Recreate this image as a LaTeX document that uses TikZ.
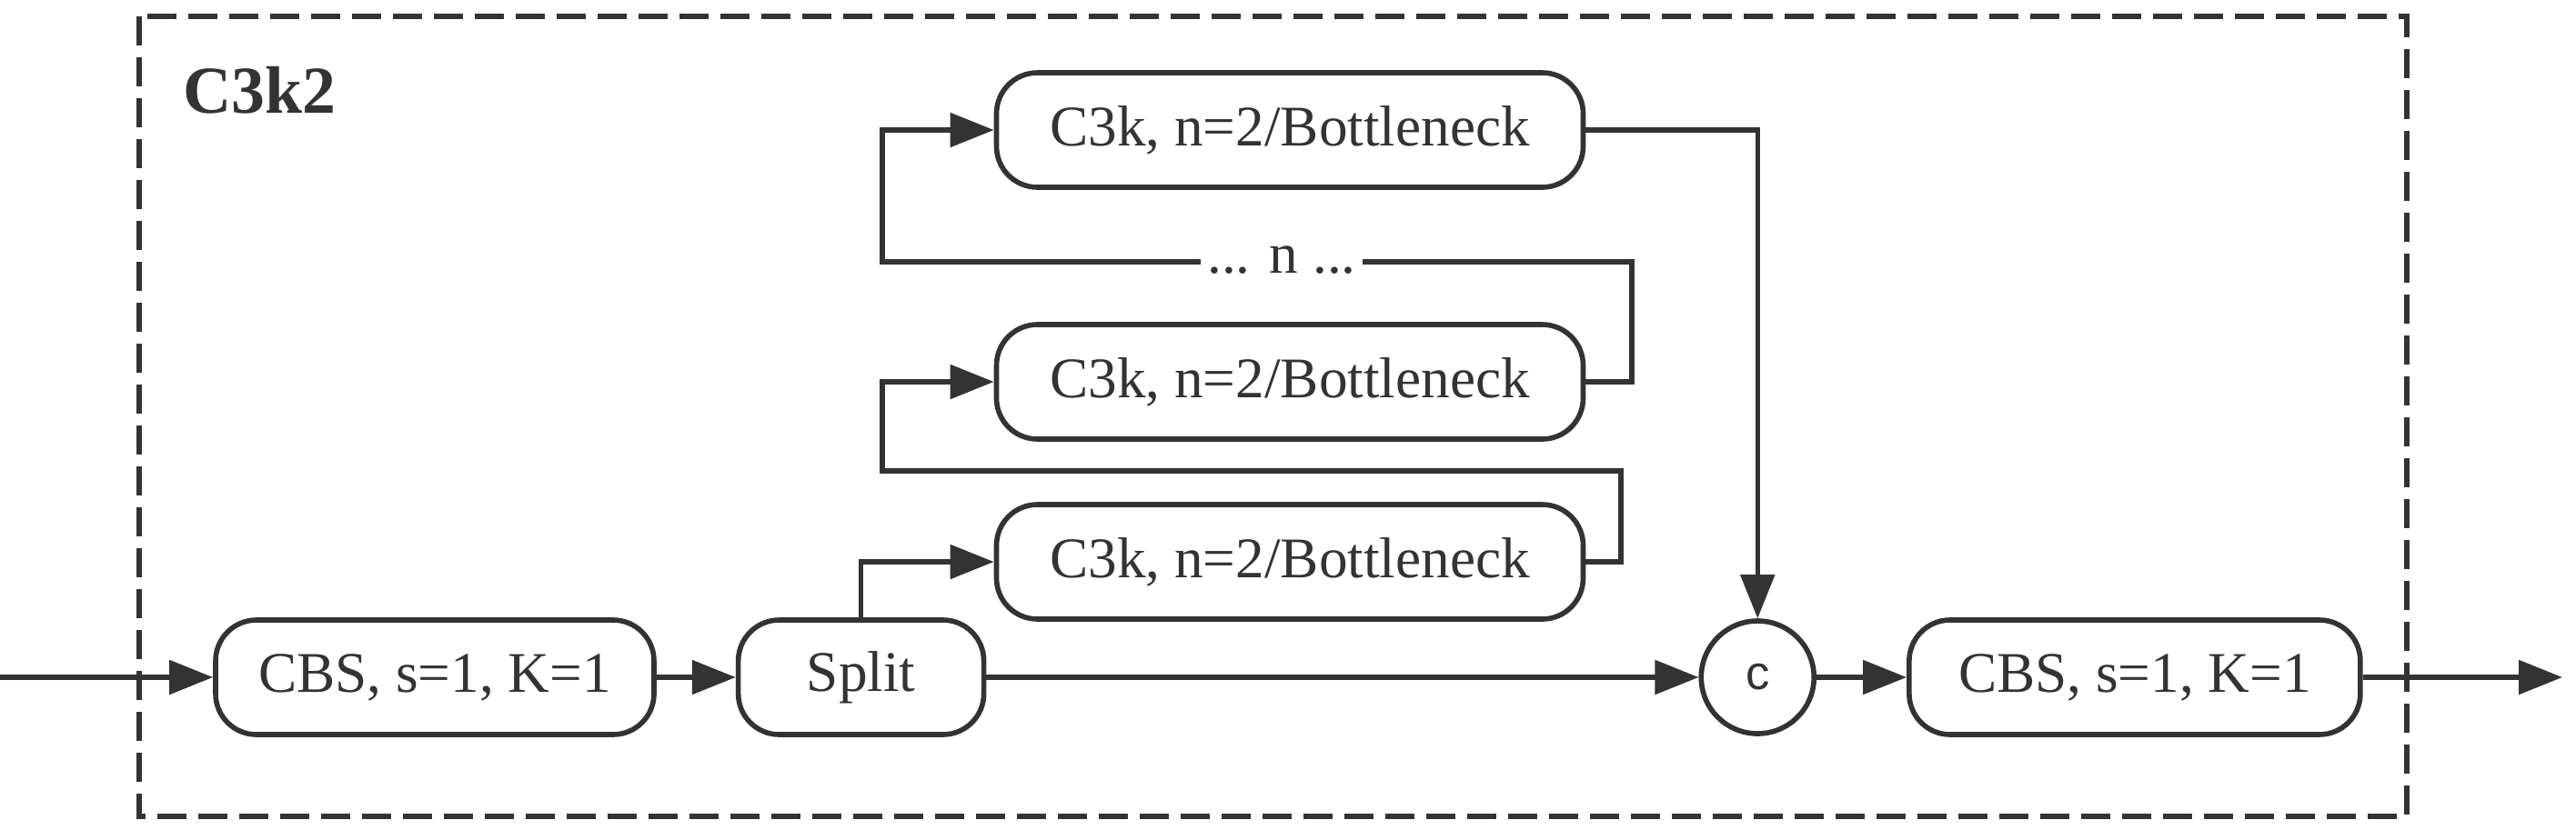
\documentclass[tikz,border=0pt]{standalone}
\usepackage{fontspec}
\setmainfont{Liberation Serif}
\newfontfamily\circfont{Liberation Sans}
\usepackage{tikz}
\usetikzlibrary{
    arrows.meta,
    positioning,
    calc
}
\definecolor{InkGray}{RGB}{51,51,51}
\tikzset{
  block/.style   = {draw=InkGray, line width=1.6pt, rounded corners=0.45cm,
                    minimum height=1.26cm, align=center, text=InkGray,
                    font=\fontsize{18}{21}\selectfont},
  catnode/.style = {circle, draw=InkGray, line width=1.6pt, minimum size=1.24cm,
                    inner sep=0pt, text=InkGray, font=\circfont\fontsize{15}{18}\selectfont},
  arr/.style     = {-{Triangle[length=0.48cm,width=0.37cm]}, line width=1.5pt, InkGray},
  wire/.style    = {line width=1.5pt, InkGray},
  frame/.style   = {draw=InkGray, line width=1.5pt, dash pattern=on 0.32cm off 0.13cm}
}

\begin{document}
\begin{tikzpicture}[node distance=0.9cm]
\useasboundingbox (0,0) rectangle (28.32,-9.12);
\draw[frame] (1.53,-0.18) rectangle (26.46,-8.98);
\node[anchor=west, text=InkGray, font=\bfseries\fontsize{21}{24}\selectfont] (title) at (1.89,-0.99) {C3k2};
% main line
\node[block, minimum width=4.82cm] (cbsin) at (4.78,-7.45) {CBS, s=1, K=1};
\node[block, minimum width=2.70cm, right=0.87cm of cbsin] (split) {Split};
\node[catnode, right=7.83cm of split] (concat) {c};
\node[block, minimum width=4.96cm, right=0.99cm of concat] (cbsout) {CBS, s=1, K=1};
\coordinate (in) at (0,-7.45);
\coordinate (out) at (28.17,-7.45);
% bottleneck stack
\node[block, minimum width=6.45cm] (bbot) at (14.18,-6.18) {C3k, n=2/Bottleneck};
\node[block, minimum width=6.45cm] (bmid) at (14.18,-4.20) {C3k, n=2/Bottleneck};
\node[block, minimum width=6.45cm] (btop) at (14.18,-1.43) {C3k, n=2/Bottleneck};
\node[text=InkGray, font=\fontsize{18}{21}\selectfont, inner sep=2pt] (dots) at (14.09,-2.86) {... n ...};
\coordinate (r1) at (17.82,-5.18);
\coordinate (l1) at (9.70,-5.18);
\coordinate (r2) at (17.94,-2.88);
\coordinate (l2) at (9.70,-2.88);
\draw[arr] (in) -- (cbsin);
\draw[arr] (cbsin) -- (split);
\draw[arr] (split) -- (concat);
\draw[arr] (concat) -- (cbsout);
\draw[arr] (cbsout) -- (out);
\draw[arr] (split.north) |- (bbot.west);
\draw[arr] (bbot.east) -| (r1) -- (l1) |- (bmid.west);
\draw[wire] (bmid.east) -| (r2) -- (dots.east |- r2);
\draw[arr] (dots.west |- l2) -- (l2) |- (btop.west);
\draw[arr] (btop.east) -| (concat.north);
\end{tikzpicture}
\end{document}
